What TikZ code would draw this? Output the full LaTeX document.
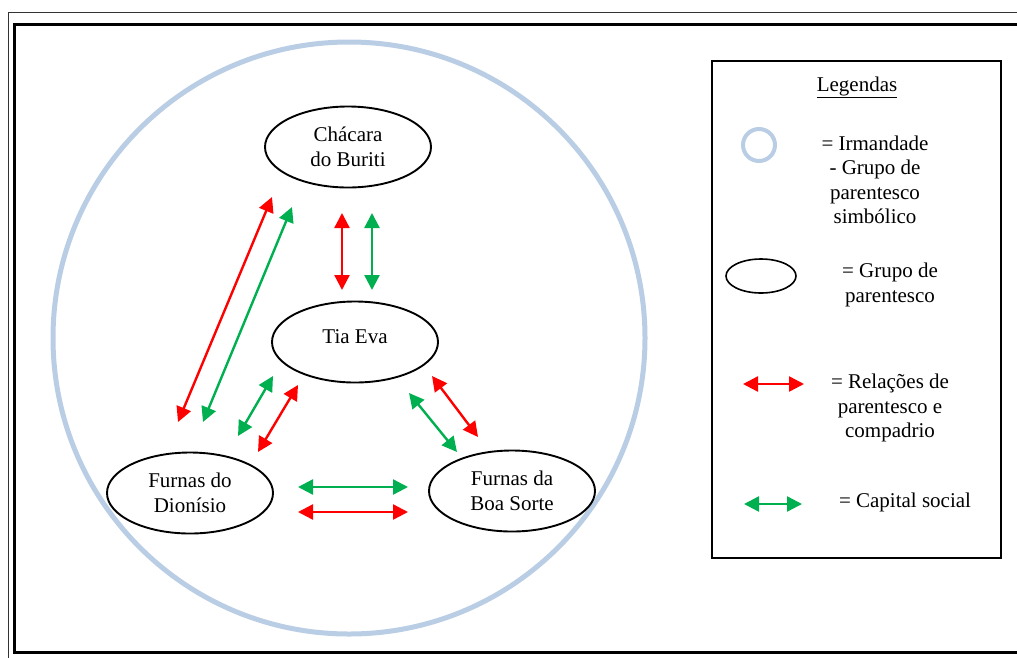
\documentclass[tikz,border=0pt]{standalone}
\usepackage{fontspec}
\setmainfont{Liberation Serif}
\usetikzlibrary{shapes.geometric, arrows.meta}
\definecolor{irmblue}{HTML}{B9CDE5}
\definecolor{parred}{HTML}{FF0000}
\definecolor{capgreen}{HTML}{00B050}

\begin{document}
\begin{tikzpicture}[x=1pt, y=-1pt, font=\fontsize{21}{24.5}\selectfont,
        grupo/.style={draw, ellipse, line width=1.9pt, minimum width=166pt, minimum height=81pt, inner sep=0pt, align=center},
        relpar/.style={parred, line width=2.4pt, {Triangle[length=15pt,width=15pt]}-{Triangle[length=15pt,width=15pt]}},
        capsoc/.style={relpar, capgreen},
        legtext/.style={align=center}]
        \useasboundingbox (0, 0) rectangle (1017, 657);

        % frames of the page
        \draw[gray!40!black, line width=1.6pt] (8.5, 12.5) rectangle (1040, 680);
        \draw[line width=2.2pt] (14.5, 24.5) rectangle (1030, 652.5);

        % irmandade
        \draw[irmblue, line width=5pt] (349, 338) circle (296);

        \node[grupo] (buriti) at (348, 147) {Chácara\\do Buriti};
        \node[grupo, text height=14pt, text depth=12pt] (tiaeva) at (355, 342) {Tia Eva};
        \node[grupo] (dionisio) at (190, 493) {Furnas do\\Dionísio};
        \node[grupo] (boasorte) at (512, 491) {Furnas da\\Boa Sorte};

        % Buriti -- Dionisio
        \coordinate (bdr1) at (178, 422);
        \coordinate (bdr2) at (272, 197);
        \coordinate (bdg1) at (203, 422);
        \coordinate (bdg2) at (292, 207);
        \draw[relpar] (bdr1) -- (bdr2);
        \draw[capsoc] (bdg1) -- (bdg2);

        % Buriti -- Tia Eva
        \coordinate (btr1) at (342, 213);
        \coordinate (btr2) at (342, 290);
        \coordinate (btg1) at (372, 213);
        \coordinate (btg2) at (372, 290);
        \draw[relpar] (btr1) -- (btr2);
        \draw[capsoc] (btg1) -- (btg2);

        % Tia Eva -- Dionisio
        \coordinate (tdg1) at (238, 436);
        \coordinate (tdg2) at (273, 376);
        \coordinate (tdr1) at (258, 452);
        \coordinate (tdr2) at (298, 385);
        \draw[capsoc] (tdg1) -- (tdg2);
        \draw[relpar] (tdr1) -- (tdr2);

        % Tia Eva -- Boa Sorte
        \coordinate (tsg1) at (409, 393);
        \coordinate (tsg2) at (457, 452);
        \coordinate (tsr1) at (432, 376);
        \coordinate (tsr2) at (478, 437);
        \draw[capsoc] (tsg1) -- (tsg2);
        \draw[relpar] (tsr1) -- (tsr2);

        % Dionisio -- Boa Sorte
        \coordinate (dsg1) at (298, 487);
        \coordinate (dsg2) at (408, 487);
        \coordinate (dsr1) at (298, 512);
        \coordinate (dsr2) at (408, 512);
        \draw[capsoc] (dsg1) -- (dsg2);
        \draw[relpar] (dsr1) -- (dsr2);

        % legend
        \draw[line width=2.2pt] (712, 61) rectangle (1001, 558);
        \node (legendas) at (857, 87) {\underline{Legendas}};

        \node[circle, draw=irmblue, line width=4pt, minimum size=32pt, inner sep=0pt] (legcirc) at (759, 145) {};
        \node[legtext] (irmtxt) at (875, 180) {= Irmandade\\- Grupo de\\parentesco\\simbólico};

        \node[grupo, line width=1.6pt, minimum width=70pt, minimum height=34pt] (legell) at (761, 276) {};
        \node[legtext] (grptxt) at (890, 285) {= Grupo de\\parentesco};

        \coordinate (legr1) at (743, 384);
        \coordinate (legr2) at (804, 384);
        \draw[relpar] (legr1) -- (legr2);
        \node[legtext] (reltxt) at (890, 408) {= Relações de\\parentesco e\\compadrio};

        \coordinate (legg1) at (744, 504);
        \coordinate (legg2) at (802, 504);
        \draw[capsoc] (legg1) -- (legg2);
        \node (captxt) at (905, 502) {= Capital social};
    \end{tikzpicture}
\end{document}
